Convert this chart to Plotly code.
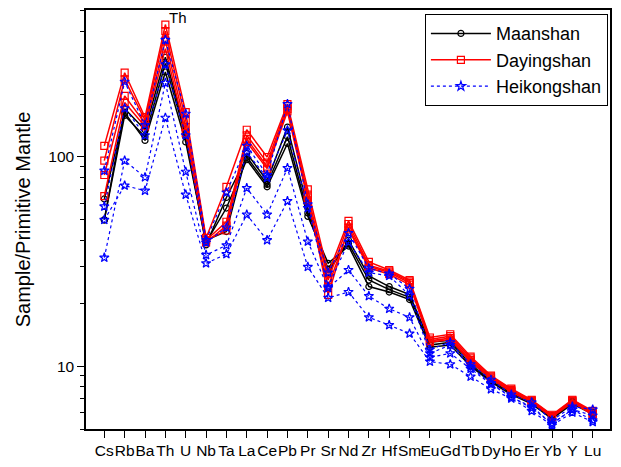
import plotly.graph_objects as go

elements = ["Cs", "Rb", "Ba", "Th", "U", "Nb", "Ta", "La", "Ce", "Pb", "Pr", "Sr", "Nd",
            "Zr", "Hf", "Sm", "Eu", "Gd", "Tb", "Dy", "Ho", "Er", "Yb", "Y", "Lu"]

# Primitive-mantle normalised trace elements, one list per sample
maanshan_1 = [63, 163, 120, 255, 118, 39, 57, 97, 72, 116, 52, 31, 37.5, 24.0, 22.6, 20.8, 12.3, 12.6, 10.0, 8.4, 7.3, 6.6, 5.6, 6.6, 5.9]
maanshan_2 = [50, 158, 125, 280, 125, 38, 64, 100, 74, 125, 54, 29, 38.5, 25.8, 23.2, 21.3, 12.6, 13.0, 10.2, 8.5, 7.4, 6.7, 5.7, 6.7, 6.0]
maanshan_3 = [50, 170, 135, 300, 130, 40, 44, 104, 77, 139, 57, 28, 40, 27, 24, 22, 13.0, 13.3, 10.5, 8.7, 7.5, 6.8, 5.8, 6.8, 6.0]

dayingshan_1 = [113, 253, 155, 430, 164, 41, 72, 135, 100, 179, 70, 27.7, 49.5, 31.5, 28.8, 25.8, 13.7, 14.2, 11.1, 9.0, 7.8, 6.9, 5.85, 6.9, 6.1]
dayingshan_2 = [96, 235, 150, 400, 150, 40, 49, 127, 94, 175, 66, 25.8, 47.8, 30.4, 28.4, 25.4, 13.4, 13.9, 10.9, 8.9, 7.7, 6.85, 5.8, 6.85, 6.0]
dayingshan_3 = [82, 196, 145, 360, 139, 40, 44.5, 122, 90, 170, 64, 21.9, 46, 30, 28, 25, 13.2, 13.6, 10.7, 8.8, 7.6, 6.8, 5.75, 6.8, 5.9]
dayingshan_4 = [65, 182, 140, 330, 130, 39, 47, 118, 88, 165, 62, 24, 45, 29.5, 27.5, 24.5, 13.0, 13.4, 10.5, 8.7, 7.5, 6.7, 5.7, 6.7, 5.85]

heikongshan_1 = [86, 229, 142, 363, 161, 40, 67.6, 113, 82, 179, 59.4, 28, 43.3, 29.3, 27.7, 23.4, 12.0, 13.0, 10.2, 8.6, 7.3, 6.7, 5.5, 6.4, 6.2]
heikongshan_2 = [58, 171, 127, 277, 127, 39, 46, 105, 79.5, 134, 57, 24, 39.2, 28, 27, 21.8, 11.5, 12.6, 9.9, 8.3, 7.1, 6.4, 5.3, 6.2, 5.8]
heikongshan_3 = [33, 96, 80, 226, 85, 34, 37.8, 71, 53, 88.5, 39.4, 23.6, 28.8, 21.6, 18.8, 17.1, 11.0, 11.5, 9.7, 8.2, 7.1, 6.3, 5.3, 6.2, 5.5]
heikongshan_4 = [50, 73, 69, 154, 66, 31, 34.3, 53, 40, 61.5, 29.8, 21.2, 22.6, 17.1, 15.7, 14.3, 10.5, 10.2, 8.9, 7.75, 7.0, 6.1, 5.2, 6.0, 5.4]

groups = [
    ("Maanshan", [maanshan_1, maanshan_2, maanshan_3],
     dict(color="black", width=1.5, dash="solid"),
     dict(symbol="circle-open", size=6, color="black", line=dict(width=1.2))),
    ("Dayingshan", [dayingshan_1, dayingshan_2, dayingshan_3, dayingshan_4],
     dict(color="#FF0000", width=1.5, dash="solid"),
     dict(symbol="square-open", size=7, color="#FF0000", line=dict(width=1.2))),
    ("Heikongshan", [heikongshan_1, heikongshan_2, heikongshan_3, heikongshan_4],
     dict(color="#0000FF", width=1.2, dash="dot"),
     dict(symbol="star-open", size=7, color="#0000FF", line=dict(width=1.2))),
]

xpos = list(range(len(elements)))

fig = go.Figure()
for name, samples, line, marker in groups:
    for i, vals in enumerate(samples):
        fig.add_trace(go.Scatter(
            x=xpos, y=vals, mode="lines+markers", name=name,
            legendgroup=name, showlegend=(i == 0),
            line=line, marker=marker,
        ))

fig.add_annotation(x=3, y=2.665, yref="y", xref="x", text="Th", showarrow=False,
                   xanchor="left", xshift=2, font=dict(size=15, color="black"))

base = "Liberation Sans, Arial, sans-serif"
axis_font = dict(family=base, size=15.5, color="black")

fig.update_layout(
    width=621, height=467,
    margin=dict(l=86, r=11, t=8, b=34),
    paper_bgcolor="white", plot_bgcolor="white",
    font=axis_font,
    legend=dict(
        x=0.996, y=0.99, xanchor="right", yanchor="top",
        bgcolor="white", bordercolor="black", borderwidth=1,
        font=dict(family=base, size=18, color="black"),
        itemwidth=60, tracegroupgap=0,
    ),
    xaxis=dict(
        range=[-0.9, 24.85], tickmode="array", tickvals=xpos, ticktext=elements,
        tickangle=0,
        ticks="outside", ticklen=7, tickwidth=1, tickcolor="black",
        showline=True, linecolor="black", linewidth=1.5, mirror=True,
        showgrid=False, zeroline=False, tickfont=axis_font,
    ),
    yaxis=dict(
        type="log", range=[0.699, 2.703], dtick=1,
        ticks="outside", ticklen=7, tickwidth=1, tickcolor="black",
        minor=dict(ticks="outside", ticklen=4, dtick="D1", tickcolor="black", showgrid=False),
        showline=True, linecolor="black", linewidth=1.5, mirror=True,
        showgrid=False, zeroline=False, tickfont=axis_font,
        title=dict(text="Sample/Primitive Mantle", font=dict(family=base, size=20), standoff=12),
    ),
)

fig.write_html("out.html")
